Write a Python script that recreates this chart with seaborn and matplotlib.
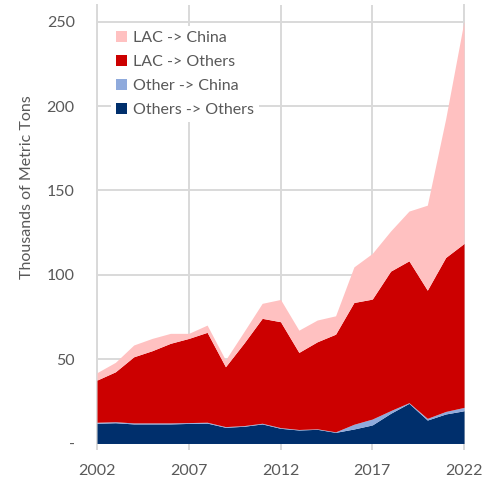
import matplotlib
matplotlib.use("Agg")
import matplotlib.pyplot as plt
from matplotlib.patches import Patch
import seaborn as sns

# Annual trade volumes, thousands of metric tons
years = list(range(2002, 2023))
others_to_others = [12.0, 12.3, 11.6, 11.6, 11.6, 11.9, 12.1, 9.6, 10.2, 11.6, 9.0,
                    8.0, 8.4, 6.6, 8.6, 11.0, 17.9, 23.8, 13.9, 17.5, 19.4]
other_to_china = [0.6, 0.6, 0.6, 0.6, 0.6, 0.5, 0.5, 0.4, 0.4, 0.4, 0.4,
                  0.3, 0.3, 0.3, 2.8, 3.5, 1.6, 0.4, 1.0, 1.5, 2.0]
lac_to_others = [25.0, 29.6, 39.2, 42.8, 47.2, 49.9, 53.3, 35.5, 48.8, 62.2, 62.8,
                 45.7, 51.6, 57.9, 72.2, 71.1, 82.7, 84.1, 76.0, 91.3, 97.2]
lac_to_china = [4.4, 5.6, 7.0, 7.3, 5.9, 3.0, 4.3, 4.0, 6.8, 8.9, 13.2,
                13.2, 12.9, 10.9, 21.1, 27.1, 23.8, 29.5, 50.4, 82.2, 131.9]

series_labels = ["Others -> Others", "Other -> China", "LAC -> Others", "LAC -> China"]
series_colors = ["#002F6C", "#8FAADC", "#CC0000", "#FFC1C1"]

year_ticks = [2002, 2007, 2012, 2017, 2022]
value_ticks = [0, 50, 100, 150, 200, 250]
value_tick_labels = ["-", "50", "100", "150", "200", "250"]

sns.set_theme(style="white")
plt.rcParams["font.family"] = ["Lato", "DejaVu Sans"]

text_grey = "#595959"
grid_grey = "#D9D9D9"

fig = plt.figure(figsize=(4.94, 4.78), dpi=100)
ax = fig.add_axes([0.1964, 0.0722, 0.7429, 0.9174])

ax.stackplot(years, others_to_others, other_to_china, lac_to_others, lac_to_china,
             colors=series_colors, linewidth=0, zorder=2)

ax.set_xlim(2002, 2022)
ax.set_ylim(0, 260)
ax.set_xticks(year_ticks)
ax.set_yticks(value_ticks)
ax.set_yticklabels(value_tick_labels)

ax.grid(True, color=grid_grey, linewidth=1.4, zorder=0)
ax.set_axisbelow(True)
for side in ["top", "bottom"]:
    ax.spines[side].set_visible(False)
for side in ["left", "right"]:
    ax.spines[side].set_color(grid_grey)
    ax.spines[side].set_linewidth(1.4)
    ax.spines[side].set_zorder(0)

ax.tick_params(axis="x", which="both", bottom=True, length=5, width=1.4, color=grid_grey,
               direction="out", pad=9.5, labelsize=11.5, labelcolor=text_grey)
ax.tick_params(axis="y", which="both", left=False, length=0, pad=16,
               labelsize=11.5, labelcolor=text_grey)

ax.set_ylabel("Thousands of Metric Tons", fontsize=11.5, color=text_grey)
ax.yaxis.set_label_coords(-0.172, 0.585)

handles = [Patch(facecolor=c, edgecolor="none") for c in series_colors][::-1]
leg = ax.legend(handles, series_labels[::-1], loc="upper left",
                bbox_to_anchor=(0.039, 0.951), frameon=True, fancybox=False,
                facecolor="white", edgecolor="none", framealpha=1,
                fontsize=11.5, handlelength=0.7, handleheight=0.7,
                handletextpad=0.35, labelspacing=0.6, borderpad=0.3,
                borderaxespad=0)
for t in leg.get_texts():
    t.set_color(text_grey)
leg.set_zorder(5)

fig.savefig("out.png", dpi=100)
